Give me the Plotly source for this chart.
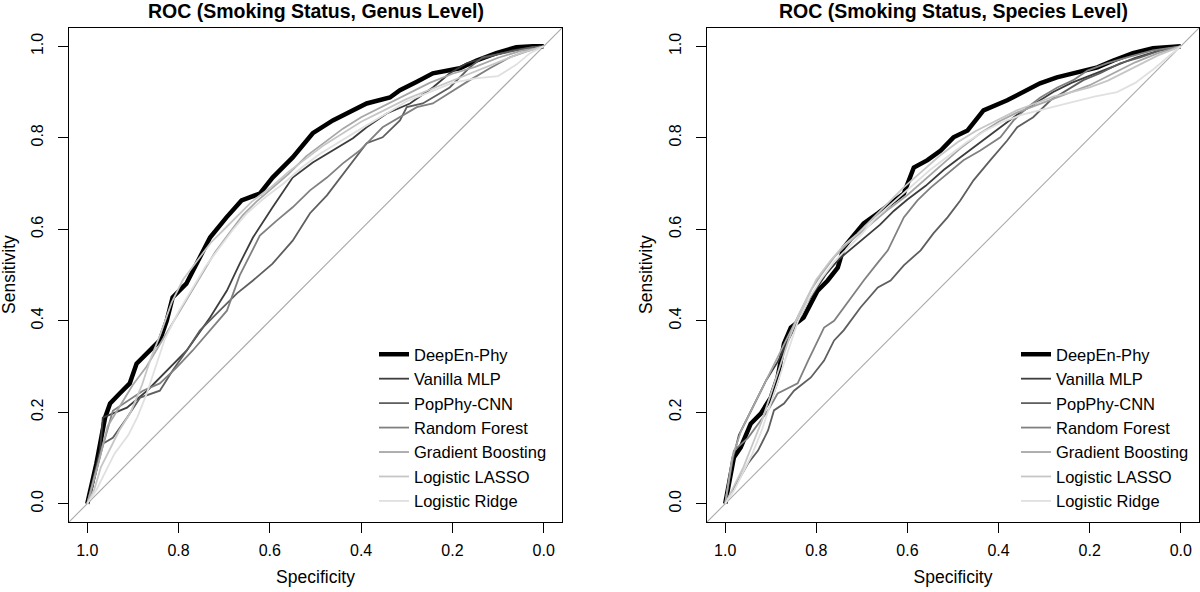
import plotly.graph_objects as go

# ---------------- data (specificity, sensitivity) ----------------
MODELS = ["DeepEn-Phy", "Vanilla MLP", "PopPhy-CNN", "Random Forest",
          "Gradient Boosting", "Logistic LASSO", "Logistic Ridge"]
TITLES = ["ROC (Smoking Status, Genus Level)", "ROC (Smoking Status, Species Level)"]
X_TITLE = "Specificity"
Y_TITLE = "Sensitivity"
TICKS = [0.0, 0.2, 0.4, 0.6, 0.8, 1.0]
TICK_LABELS = ["0.0", "0.2", "0.4", "0.6", "0.8", "1.0"]

# ---- Genus level ----
genus_deepen_spec = [1.0, 0.98, 0.961, 0.95, 0.929, 0.907, 0.892, 0.863, 0.841, 0.826, 0.813, 0.783, 0.761, 0.731, 0.695, 0.662, 0.622, 0.594, 0.55, 0.506, 0.462, 0.418, 0.388, 0.337, 0.315, 0.279, 0.243, 0.184, 0.147, 0.104, 0.06, 0.024, 0.0]
genus_deepen_sens = [0.0, 0.088, 0.188, 0.219, 0.241, 0.263, 0.306, 0.335, 0.357, 0.4, 0.451, 0.481, 0.525, 0.582, 0.626, 0.663, 0.678, 0.713, 0.757, 0.81, 0.838, 0.86, 0.875, 0.888, 0.904, 0.922, 0.941, 0.952, 0.969, 0.985, 0.998, 1.0, 1.0]

genus_mlp_spec = [1.0, 0.972, 0.966, 0.913, 0.869, 0.826, 0.782, 0.731, 0.694, 0.666, 0.637, 0.594, 0.55, 0.506, 0.462, 0.418, 0.388, 0.344, 0.293, 0.243, 0.206, 0.169, 0.125, 0.068, 0.024, 0.0]
genus_mlp_sens = [0.0, 0.116, 0.188, 0.21, 0.247, 0.291, 0.335, 0.407, 0.466, 0.525, 0.582, 0.648, 0.713, 0.746, 0.772, 0.799, 0.823, 0.853, 0.875, 0.91, 0.941, 0.963, 0.976, 0.991, 0.998, 1.0]

genus_popphy_spec = [1.0, 0.994, 0.966, 0.944, 0.913, 0.884, 0.841, 0.813, 0.782, 0.753, 0.71, 0.672, 0.637, 0.594, 0.55, 0.512, 0.475, 0.447, 0.418, 0.388, 0.353, 0.315, 0.3, 0.265, 0.206, 0.162, 0.134, 0.081, 0.024, 0.0]
genus_popphy_sens = [0.0, 0.013, 0.131, 0.144, 0.188, 0.232, 0.247, 0.291, 0.335, 0.379, 0.422, 0.46, 0.488, 0.525, 0.575, 0.635, 0.674, 0.711, 0.751, 0.788, 0.801, 0.838, 0.867, 0.875, 0.91, 0.954, 0.976, 0.987, 0.998, 1.0]

genus_rf_spec = [1.0, 0.972, 0.944, 0.878, 0.841, 0.804, 0.769, 0.731, 0.694, 0.666, 0.644, 0.622, 0.585, 0.55, 0.512, 0.475, 0.44, 0.403, 0.353, 0.315, 0.278, 0.243, 0.206, 0.162, 0.118, 0.074, 0.031, 0.0]
genus_rf_sens = [0.0, 0.105, 0.203, 0.247, 0.263, 0.298, 0.335, 0.379, 0.422, 0.499, 0.543, 0.586, 0.619, 0.648, 0.685, 0.713, 0.744, 0.772, 0.823, 0.845, 0.867, 0.875, 0.899, 0.926, 0.952, 0.976, 0.991, 1.0]

genus_gb_spec = [1.0, 0.975, 0.955, 0.93, 0.9, 0.87, 0.84, 0.81, 0.78, 0.75, 0.72, 0.69, 0.66, 0.63, 0.6, 0.56, 0.52, 0.48, 0.44, 0.4, 0.35, 0.3, 0.25, 0.2, 0.15, 0.1, 0.05, 0.02, 0.0]
genus_gb_sens = [0.0, 0.09, 0.17, 0.21, 0.26, 0.3, 0.35, 0.4, 0.45, 0.5, 0.55, 0.59, 0.63, 0.66, 0.685, 0.72, 0.76, 0.79, 0.82, 0.845, 0.87, 0.895, 0.92, 0.94, 0.955, 0.975, 0.99, 0.995, 1.0]

genus_lasso_spec = [1.0, 0.985, 0.97, 0.95, 0.93, 0.905, 0.88, 0.86, 0.84, 0.815, 0.79, 0.76, 0.73, 0.7, 0.67, 0.64, 0.6, 0.56, 0.52, 0.48, 0.44, 0.4, 0.35, 0.3, 0.25, 0.2, 0.15, 0.1, 0.05, 0.0]
genus_lasso_sens = [0.0, 0.03, 0.08, 0.12, 0.16, 0.2, 0.26, 0.32, 0.37, 0.44, 0.49, 0.53, 0.57, 0.6, 0.63, 0.66, 0.69, 0.725, 0.755, 0.785, 0.81, 0.835, 0.86, 0.885, 0.905, 0.925, 0.945, 0.965, 0.985, 1.0]

genus_ridge_spec = [1.0, 0.98, 0.96, 0.94, 0.91, 0.89, 0.87, 0.85, 0.83, 0.8, 0.77, 0.74, 0.71, 0.68, 0.65, 0.61, 0.57, 0.53, 0.49, 0.45, 0.4, 0.35, 0.3, 0.25, 0.2, 0.15, 0.1, 0.06, 0.03, 0.0]
genus_ridge_sens = [0.0, 0.03, 0.07, 0.11, 0.15, 0.19, 0.24, 0.3, 0.36, 0.42, 0.47, 0.52, 0.56, 0.6, 0.635, 0.67, 0.7, 0.735, 0.765, 0.79, 0.82, 0.85, 0.88, 0.9, 0.92, 0.93, 0.935, 0.96, 0.985, 1.0]

# ---- Species level ----
species_deepen_spec = [1.0, 0.981, 0.966, 0.944, 0.922, 0.9, 0.885, 0.871, 0.856, 0.828, 0.812, 0.797, 0.775, 0.753, 0.74, 0.709, 0.696, 0.665, 0.637, 0.608, 0.586, 0.556, 0.527, 0.499, 0.468, 0.433, 0.381, 0.346, 0.309, 0.272, 0.236, 0.183, 0.148, 0.105, 0.061, 0.017, 0.0]
species_deepen_sens = [0.0, 0.101, 0.123, 0.175, 0.197, 0.232, 0.276, 0.35, 0.385, 0.407, 0.438, 0.466, 0.488, 0.516, 0.56, 0.597, 0.613, 0.635, 0.656, 0.678, 0.735, 0.751, 0.772, 0.801, 0.816, 0.86, 0.882, 0.899, 0.919, 0.932, 0.941, 0.954, 0.969, 0.985, 0.996, 1.0, 1.0]

species_mlp_spec = [1.0, 0.985, 0.97, 0.95, 0.93, 0.91, 0.885, 0.86, 0.84, 0.82, 0.8, 0.78, 0.75, 0.72, 0.69, 0.66, 0.63, 0.6, 0.56, 0.52, 0.48, 0.44, 0.4, 0.36, 0.32, 0.28, 0.24, 0.2, 0.15, 0.1, 0.05, 0.0]
species_mlp_sens = [0.0, 0.09, 0.15, 0.19, 0.23, 0.27, 0.31, 0.36, 0.4, 0.44, 0.47, 0.5, 0.535, 0.56, 0.585, 0.61, 0.64, 0.665, 0.695, 0.73, 0.76, 0.79, 0.82, 0.85, 0.875, 0.9, 0.92, 0.935, 0.955, 0.975, 0.99, 1.0]

species_popphy_spec = [1.0, 0.972, 0.95, 0.928, 0.906, 0.893, 0.871, 0.849, 0.812, 0.783, 0.761, 0.74, 0.703, 0.665, 0.637, 0.608, 0.571, 0.543, 0.512, 0.484, 0.455, 0.418, 0.381, 0.359, 0.324, 0.286, 0.249, 0.214, 0.177, 0.133, 0.089, 0.045, 0.0]
species_popphy_sens = [0.0, 0.05, 0.088, 0.116, 0.16, 0.204, 0.219, 0.247, 0.276, 0.313, 0.357, 0.379, 0.429, 0.473, 0.488, 0.521, 0.554, 0.591, 0.626, 0.663, 0.707, 0.751, 0.794, 0.823, 0.845, 0.882, 0.904, 0.926, 0.941, 0.963, 0.976, 0.991, 1.0]

species_rf_spec = [1.0, 0.981, 0.95, 0.928, 0.906, 0.885, 0.841, 0.818, 0.797, 0.783, 0.761, 0.74, 0.718, 0.696, 0.665, 0.643, 0.608, 0.578, 0.549, 0.512, 0.477, 0.44, 0.396, 0.367, 0.336, 0.308, 0.271, 0.236, 0.205, 0.161, 0.118, 0.061, 0.0]
species_rf_sens = [0.0, 0.116, 0.144, 0.175, 0.204, 0.241, 0.263, 0.313, 0.357, 0.385, 0.4, 0.429, 0.46, 0.488, 0.527, 0.554, 0.626, 0.663, 0.691, 0.722, 0.751, 0.772, 0.801, 0.838, 0.867, 0.888, 0.91, 0.926, 0.947, 0.963, 0.976, 0.991, 1.0]

species_gb_spec = [1.0, 0.985, 0.965, 0.945, 0.92, 0.9, 0.875, 0.85, 0.83, 0.81, 0.79, 0.76, 0.73, 0.7, 0.67, 0.64, 0.6, 0.56, 0.52, 0.48, 0.44, 0.4, 0.36, 0.32, 0.28, 0.24, 0.2, 0.15, 0.1, 0.05, 0.0]
species_gb_sens = [0.0, 0.1, 0.16, 0.2, 0.25, 0.29, 0.34, 0.39, 0.43, 0.47, 0.5, 0.54, 0.57, 0.595, 0.62, 0.645, 0.675, 0.71, 0.745, 0.78, 0.81, 0.835, 0.855, 0.87, 0.885, 0.9, 0.915, 0.94, 0.965, 0.985, 1.0]

species_lasso_spec = [1.0, 0.98, 0.96, 0.94, 0.92, 0.9, 0.88, 0.86, 0.84, 0.82, 0.8, 0.77, 0.74, 0.71, 0.68, 0.65, 0.61, 0.57, 0.53, 0.49, 0.45, 0.4, 0.36, 0.32, 0.28, 0.24, 0.2, 0.16, 0.1, 0.05, 0.0]
species_lasso_sens = [0.0, 0.04, 0.08, 0.13, 0.18, 0.24, 0.3, 0.36, 0.41, 0.45, 0.49, 0.53, 0.565, 0.59, 0.62, 0.65, 0.69, 0.725, 0.76, 0.79, 0.815, 0.84, 0.86, 0.875, 0.89, 0.9, 0.91, 0.925, 0.955, 0.98, 1.0]

species_ridge_spec = [1.0, 0.98, 0.96, 0.94, 0.92, 0.9, 0.88, 0.86, 0.84, 0.815, 0.79, 0.76, 0.73, 0.7, 0.67, 0.63, 0.59, 0.55, 0.51, 0.47, 0.43, 0.39, 0.35, 0.31, 0.27, 0.23, 0.19, 0.14, 0.1, 0.06, 0.03, 0.0]
species_ridge_sens = [0.0, 0.03, 0.07, 0.11, 0.16, 0.22, 0.28, 0.34, 0.4, 0.45, 0.49, 0.53, 0.56, 0.59, 0.625, 0.66, 0.695, 0.73, 0.76, 0.79, 0.815, 0.835, 0.85, 0.86, 0.87, 0.88, 0.89, 0.9, 0.92, 0.95, 0.975, 1.0]

GENUS = [(genus_deepen_spec, genus_deepen_sens), (genus_mlp_spec, genus_mlp_sens),
         (genus_popphy_spec, genus_popphy_sens), (genus_rf_spec, genus_rf_sens),
         (genus_gb_spec, genus_gb_sens), (genus_lasso_spec, genus_lasso_sens),
         (genus_ridge_spec, genus_ridge_sens)]
SPECIES = [(species_deepen_spec, species_deepen_sens), (species_mlp_spec, species_mlp_sens),
           (species_popphy_spec, species_popphy_sens), (species_rf_spec, species_rf_sens),
           (species_gb_spec, species_gb_sens), (species_lasso_spec, species_lasso_sens),
           (species_ridge_spec, species_ridge_sens)]

# ---------------- styling ----------------
COLORS = ["#000000", "#3d3d3d", "#5e5e5e", "#808080", "#a6a6a6", "#c6c6c6", "#e0e0e0"]
WIDTHS = [4.5, 1.8, 1.8, 1.8, 1.8, 1.8, 1.8]
FONT = "Liberation Sans, Arial, Helvetica, sans-serif"
LO, HI = -0.04, 1.04
W, H = 1200, 592


def px_x(p):
    """page pixel -> paper fraction (horizontal)"""
    return p / W


def px_y(p):
    """page pixel -> paper fraction (vertical)"""
    return 1 - p / H


fig = go.Figure()

panels = [(GENUS, "x", "y", "legend"), (SPECIES, "x2", "y2", "legend2")]
for data, xa, ya, lg in panels:
    # chance diagonal (abline through the full plotting region)
    fig.add_trace(go.Scatter(x=[HI, LO], y=[LO, HI], mode="lines",
                             line=dict(color="#a9a9a9", width=1.1),
                             xaxis=xa, yaxis=ya, showlegend=False, hoverinfo="skip"))
    for i, (name, (sx, sy)) in enumerate(zip(MODELS, data)):
        fig.add_trace(go.Scatter(x=sx, y=sy, mode="lines", name=name,
                                 line=dict(color=COLORS[i], width=WIDTHS[i]),
                                 xaxis=xa, yaxis=ya, legend=lg, legendgroup=lg + name))

axis_common = dict(range=[HI, LO], tickvals=TICKS, ticktext=TICK_LABELS,
                   showgrid=False, zeroline=False, showline=True, mirror=True,
                   linecolor="black", linewidth=1, ticks="outside", ticklen=10,
                   tickcolor="black", tickwidth=1, ticklabelstandoff=4,
                   tickfont=dict(size=16, family=FONT, color="black"))
yaxis_common = dict(axis_common, range=[LO, HI], tickangle=-90, ticklabelstandoff=9)

xtitle = dict(text=X_TITLE, font=dict(size=17.5, family=FONT), standoff=12)
legend_common = dict(xanchor="left", yanchor="top", bgcolor="rgba(0,0,0,0)",
                     font=dict(size=16.5, family=FONT, color="black"),
                     tracegroupgap=0, itemwidth=30)

title_font = dict(size=19.5, family=FONT, color="black")
ylab_font = dict(size=17.5, family=FONT, color="black")

fig.update_layout(
    width=W, height=H,
    margin=dict(l=0, r=0, t=0, b=0),
    paper_bgcolor="white", plot_bgcolor="white",
    font=dict(family=FONT, color="black"),
    xaxis=dict(axis_common, domain=[px_x(69), px_x(562)], anchor="y", title=xtitle),
    yaxis=dict(yaxis_common, domain=[px_y(522), px_y(28)], anchor="x"),
    xaxis2=dict(axis_common, domain=[px_x(707), px_x(1199)], anchor="y2", title=xtitle),
    yaxis2=dict(yaxis_common, domain=[px_y(522), px_y(28)], anchor="x2"),
    legend=dict(legend_common, x=px_x(374), y=px_y(337)),
    legend2=dict(legend_common, x=px_x(1016), y=px_y(337)),
    annotations=[
        dict(text="<b>" + TITLES[0] + "</b>", x=(px_x(69) + px_x(562)) / 2, y=px_y(10.5),
             xref="paper", yref="paper", showarrow=False, xanchor="center", yanchor="middle",
             font=title_font),
        dict(text="<b>" + TITLES[1] + "</b>", x=(px_x(707) + px_x(1199)) / 2, y=px_y(10.5),
             xref="paper", yref="paper", showarrow=False, xanchor="center", yanchor="middle",
             font=title_font),
        dict(text=Y_TITLE, x=px_x(9), y=(px_y(522) + px_y(28)) / 2, textangle=-90,
             xref="paper", yref="paper", showarrow=False, xanchor="center", yanchor="middle",
             font=ylab_font),
        dict(text=Y_TITLE, x=px_x(646), y=(px_y(522) + px_y(28)) / 2, textangle=-90,
             xref="paper", yref="paper", showarrow=False, xanchor="center", yanchor="middle",
             font=ylab_font),
    ],
)

# remove the default 8px body margin so the 1200x592 figure fills the window exactly
fig.write_html("out.html", config={"displayModeBar": False},
               post_script="document.body.style.margin='0px';")
